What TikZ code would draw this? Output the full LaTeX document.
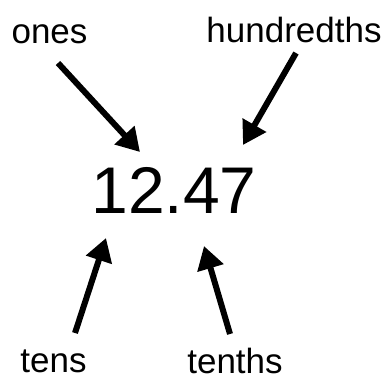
\documentclass[tikz,border=0pt]{standalone}
\usepackage{fontspec}
\setmainfont{Liberation Sans}
\usetikzlibrary{arrows.meta}
\begin{document}
\begin{tikzpicture}[x=1pt,y=-1pt,
  lbl/.style={anchor=base,inner sep=0pt,font=\fontsize{35}{40}\selectfont},
  num/.style={anchor=base,inner sep=0pt,font=\fontsize{66}{72}\selectfont},
  pointer/.style={line width=6pt,-{Triangle[length=23pt,width=26pt]}}]
\useasboundingbox (0,0) rectangle (382,383);
\node[num] (n) at (174,213) {12.47};
\node[lbl] (ones) at (49.5,43) {ones};
\node[lbl] (hund) at (294,42) {hundredths};
\node[lbl] (tens) at (53.5,372) {tens};
\node[lbl] (tenths) at (235,373) {tenths};
\coordinate (onesA) at (58,63);
\coordinate (onesB) at (140,152);
\coordinate (hundA) at (296,53);
\coordinate (hundB) at (243,145);
\coordinate (tensA) at (75,333);
\coordinate (tensB) at (106,238);
\coordinate (tenthsA) at (230,334);
\coordinate (tenthsB) at (204,246);
\draw[pointer] (onesA) -- (onesB);
\draw[pointer] (hundA) -- (hundB);
\draw[pointer] (tensA) -- (tensB);
\draw[pointer] (tenthsA) -- (tenthsB);
\end{tikzpicture}
\end{document}
